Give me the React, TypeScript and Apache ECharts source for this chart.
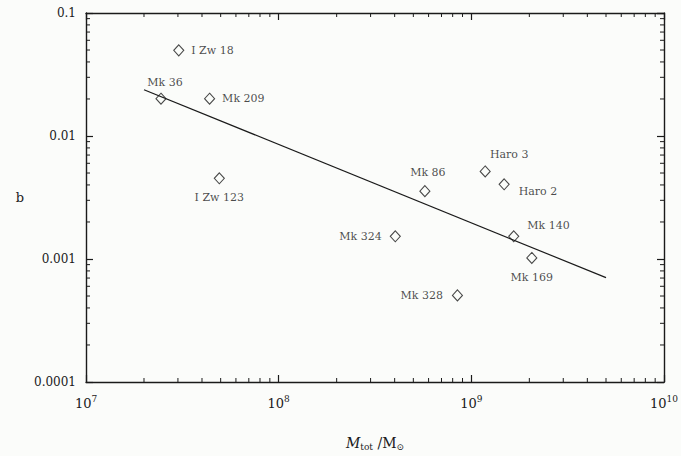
import React, { useEffect, useRef } from "react";
import * as echarts from "echarts";

const galaxyNames = ["I Zw 18", "Mk 36", "Mk 209", "I Zw 123", "Mk 86", "Haro 3", "Haro 2", "Mk 324", "Mk 140", "Mk 169", "Mk 328"];
const totalMass = [3.03e7, 2.45e7, 4.38e7, 4.92e7, 5.74e8, 1.18e9, 1.48e9, 4.03e8, 1.66e9, 2.06e9, 8.47e8];
const bValues = [0.0497, 0.0201, 0.0201, 0.00453, 0.00356, 0.00515, 0.00405, 0.00153, 0.00153, 0.00102, 0.000506];
const fitMass = [2e7, 5e9];
const fitB = [0.0238, 0.000705];
const xTickExponents = ["7", "8", "9", "10"];
const yTickLabels = ["0.0001", "0.001", "0.01", "0.1"];
const minorMultipliers = [2, 3, 4, 5, 6, 7, 8, 9];
const xDecades = [1e7, 1e8, 1e9];
const yDecades = [1e-4, 1e-3, 1e-2];

// label placement (style only)
const labelStyle: Record<string, { position: string; distance: number; offset: [number, number] }> = {
  "I Zw 18": { position: "right", distance: 7, offset: [0, 0] },
  "Mk 36": { position: "top", distance: 5, offset: [4, 0] },
  "Mk 209": { position: "right", distance: 7, offset: [0, 0] },
  "I Zw 123": { position: "bottom", distance: 8, offset: [0, 0] },
  "Mk 86": { position: "top", distance: 7, offset: [3, 0] },
  "Haro 3": { position: "top", distance: 5, offset: [24, 0] },
  "Haro 2": { position: "right", distance: 9, offset: [0, 7] },
  "Mk 324": { position: "left", distance: 8, offset: [0, 0] },
  "Mk 140": { position: "right", distance: 8, offset: [0, -11] },
  "Mk 169": { position: "bottom", distance: 8, offset: [0, 0] },
  "Mk 328": { position: "left", distance: 9, offset: [0, 0] },
};

const FONT = "DejaVu Serif";
const INK = "#1a1a1a";

export default function App() {
  const ref = useRef<HTMLDivElement>(null);
  useEffect(() => {
    document.body.style.margin = "0";
    const chart = echarts.init(ref.current!, null, { renderer: "svg" });

    const points = galaxyNames.map((n, i) => ({
      name: n,
      value: [totalMass[i], bValues[i]],
      label: {
        show: true,
        formatter: n,
        position: labelStyle[n].position,
        distance: labelStyle[n].distance,
        offset: labelStyle[n].offset,
      },
    }));

    const xMinor: number[][] = [];
    xDecades.forEach((d) => minorMultipliers.forEach((m) => xMinor.push([d * m, 0.01])));
    const yMinor: number[][] = [];
    yDecades.forEach((d) => minorMultipliers.forEach((m) => yMinor.push([1e8, d * m])));

    const tickLen = 4;
    const lineStyle = { stroke: INK, lineWidth: 1 };

    const majorTick = { show: true, inside: true, length: 7, lineStyle: { color: INK, width: 1.2 } };
    const axisLine = { show: true, lineStyle: { color: INK, width: 1.4 } };

    chart.setOption({
      animation: false,
      backgroundColor: "#fbfcfa",
      textStyle: { fontFamily: FONT },
      grid: { left: 86, right: 10, top: 13, bottom: 67 },
      xAxis: [
        {
          type: "log",
          logBase: 10,
          min: 1e7,
          max: 1e10,
          position: "bottom",
          axisLine,
          axisTick: majorTick,
          splitLine: { show: false },
          axisLabel: {
            margin: 12,
            color: INK,
            formatter: (v: number) => {
              const e = Math.round(Math.log10(v));
              return `{b|10}{s|${xTickExponents[e - 7]}}`;
            },
            rich: {
              b: { fontFamily: FONT, fontSize: 13, color: INK },
              s: { fontFamily: FONT, fontSize: 9, color: INK, padding: [0, 0, 9, 0] },
            },
          },
          name: "{i|M}{sub|tot}{n| /M}{sub|⊙}",
          nameLocation: "middle",
          nameGap: 53,
          nameTextStyle: {
            rich: {
              i: { fontFamily: FONT, fontStyle: "italic", fontSize: 14, color: INK },
              n: { fontFamily: FONT, fontSize: 14, color: INK },
              sub: { fontFamily: FONT, fontSize: 9, color: INK, padding: [7, 0, 0, 0] },
            },
          },
        },
        {
          type: "log",
          logBase: 10,
          min: 1e7,
          max: 1e10,
          position: "top",
          axisLine,
          axisTick: majorTick,
          axisLabel: { show: false },
          splitLine: { show: false },
        },
      ],
      yAxis: [
        {
          type: "log",
          logBase: 10,
          min: 1e-4,
          max: 0.1,
          position: "left",
          axisLine,
          axisTick: majorTick,
          splitLine: { show: false },
          axisLabel: {
            margin: 10,
            color: INK,
            fontFamily: FONT,
            fontSize: 12,
            formatter: (v: number) => {
              const e = Math.round(Math.log10(v));
              return yTickLabels[e + 4];
            },
          },
          name: "b",
          nameLocation: "middle",
          nameGap: 62,
          nameRotate: 0,
          nameTextStyle: { fontFamily: FONT, fontSize: 13, color: INK },
        },
        {
          type: "log",
          logBase: 10,
          min: 1e-4,
          max: 0.1,
          position: "right",
          axisLine,
          axisTick: majorTick,
          axisLabel: { show: false },
          splitLine: { show: false },
        },
      ],
      series: [
        {
          type: "line",
          data: fitMass.map((m, i) => [m, fitB[i]]),
          showSymbol: false,
          lineStyle: { color: INK, width: 1.2 },
          silent: true,
        },
        {
          type: "scatter",
          symbol: "diamond",
          symbolSize: [10, 11],
          itemStyle: { color: "#fbfcfa", borderColor: INK, borderWidth: 1.1 },
          label: { color: INK, fontFamily: FONT, fontSize: 11 },
          data: points,
        },
        {
          type: "custom",
          silent: true,
          data: xMinor,
          renderItem: (params: any, api: any) => {
            const cs = params.coordSys;
            const px = api.coord([api.value(0), api.value(1)])[0];
            const bottom = cs.y + cs.height;
            return {
              type: "group",
              children: [
                { type: "line", shape: { x1: px, y1: bottom, x2: px, y2: bottom - tickLen }, style: lineStyle },
                { type: "line", shape: { x1: px, y1: cs.y, x2: px, y2: cs.y + tickLen }, style: lineStyle },
              ],
            };
          },
        },
        {
          type: "custom",
          silent: true,
          data: yMinor,
          renderItem: (params: any, api: any) => {
            const cs = params.coordSys;
            const py = api.coord([api.value(0), api.value(1)])[1];
            const right = cs.x + cs.width;
            return {
              type: "group",
              children: [
                { type: "line", shape: { x1: cs.x, y1: py, x2: cs.x + tickLen, y2: py }, style: lineStyle },
                { type: "line", shape: { x1: right, y1: py, x2: right - tickLen, y2: py }, style: lineStyle },
              ],
            };
          },
        },
      ],
    });
    return () => chart.dispose();
  }, []);
  return <div ref={ref} style={{ width: 681, height: 456 }} />;
}
